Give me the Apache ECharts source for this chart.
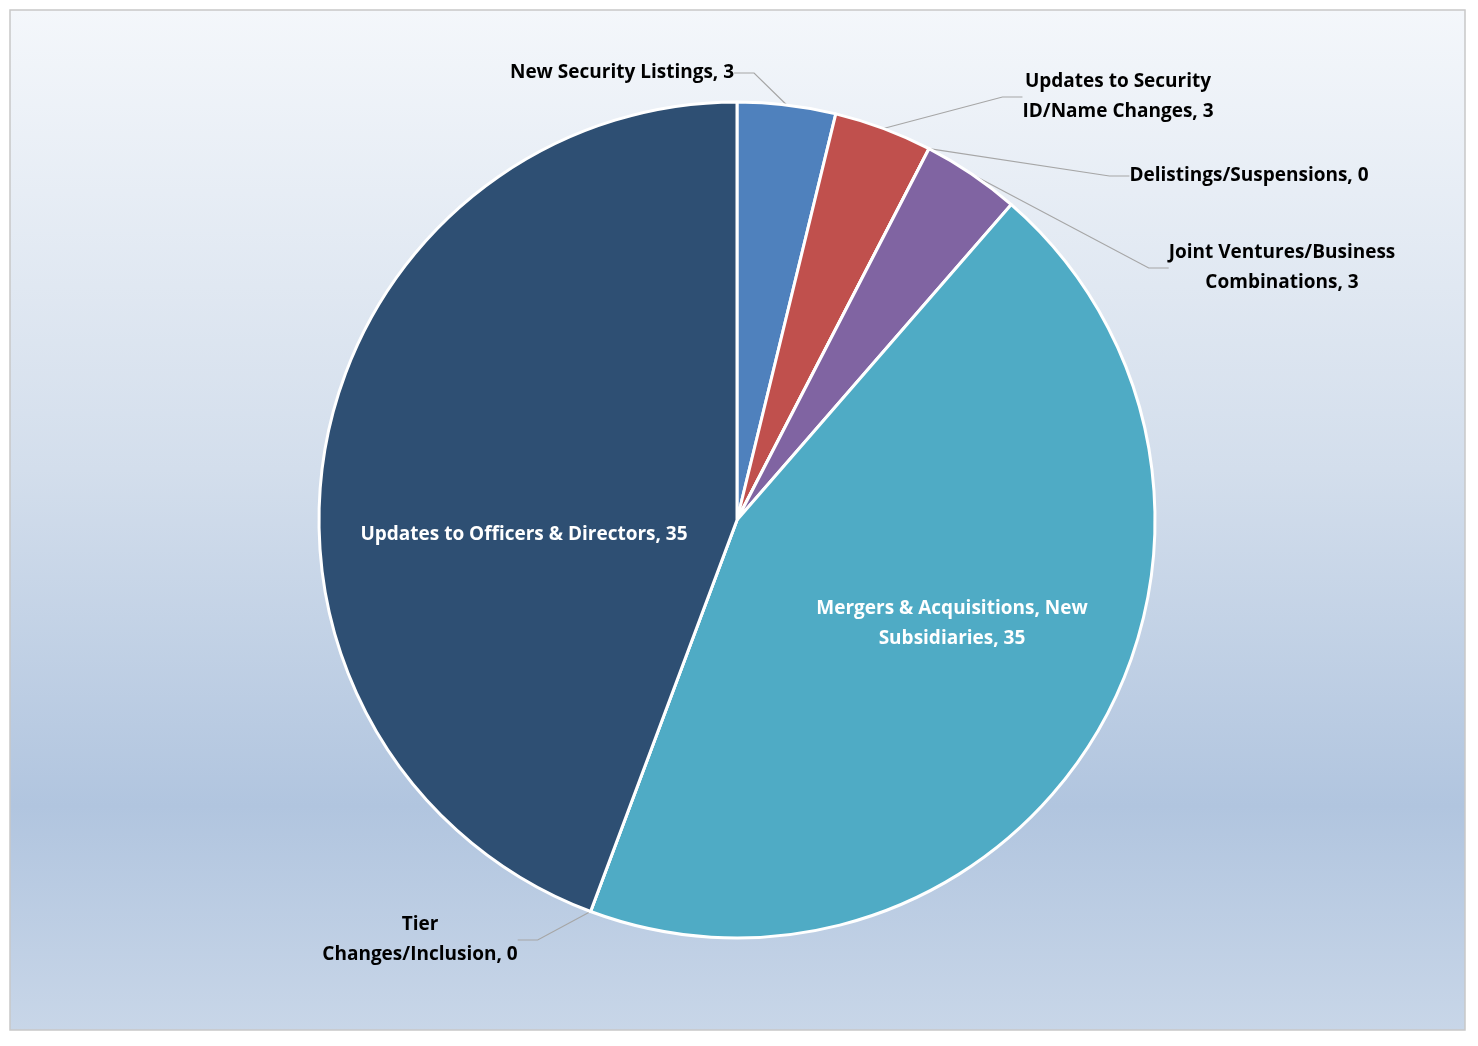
<!DOCTYPE html>
<html><head><meta charset="utf-8">
<script src="https://cdn.jsdelivr.net/npm/echarts@6/dist/echarts.min.js"></script>
<style>html,body{margin:0;padding:0;background:#fff}#c{width:1478px;height:1046px}</style>
</head><body><div id="c"></div>
<script>
const categories = ['New Security Listings','Updates to Security\nID/Name Changes','Delistings/Suspensions','Joint Ventures/Business\nCombinations','Mergers & Acquisitions, New\nSubsidiaries','Tier\nChanges/Inclusion','Updates to Officers & Directors'];
const values = [3,3,0,3,35,0,35];
const colors = ['#4f81bd','#c0504d','#9bbb59','#8064a2','#4fabc5','#f79646','#2e4f73'];
const labelPos = [
  {x:622,y:73,align:'center'},
  {x:1118,y:97,align:'center'},
  {x:1249,y:176,align:'center'},
  {x:1282,y:268,align:'center'},
  {x:952,y:624,align:'center'},
  {x:420,y:940,align:'center'},
  {x:524,y:535,align:'center'}
];
const inside = [false,false,false,false,true,false,true];
const chart = echarts.init(document.getElementById('c'));
chart.setOption({
  animation:false,
  graphic:[{type:'rect',z:-10,shape:{x:10,y:10,width:1455,height:1020},
    style:{stroke:'#c8c8c8',lineWidth:1.5,fill:{type:'linear',x:0,y:0,x2:0,y2:1,colorStops:[
      {offset:0,color:'#f4f7fb'},{offset:0.45,color:'#d3deec'},{offset:0.78,color:'#b1c5df'},{offset:1,color:'#c8d6e8'}]}}}],
  series:[{
    type:'pie',center:[737,520],radius:418,startAngle:90,clockwise:true,
    stillShowZeroSum:true,
    itemStyle:{borderColor:'#fff',borderWidth:3},
    data:categories.map((n,i)=>({name:n,value:values[i],itemStyle:{color:colors[i]},
      label:{position:inside[i]?'inside':'outside',color:inside[i]?'#fff':'#000'},
      labelLine:{show:!inside[i]}})),
    label:{formatter:p=>p.name+', '+p.value,fontFamily:'Open Sans',fontWeight:'bold',fontSize:19,lineHeight:30,align:'center'},
    labelLine:{lineStyle:{color:'#a6a6a6',width:1.2},length:20,length2:20},
    labelLayout:p=>{const q=labelPos[p.dataIndex];return {x:q.x,y:q.y,align:q.align,verticalAlign:'middle'};}
  }]
});
</script></body></html>
